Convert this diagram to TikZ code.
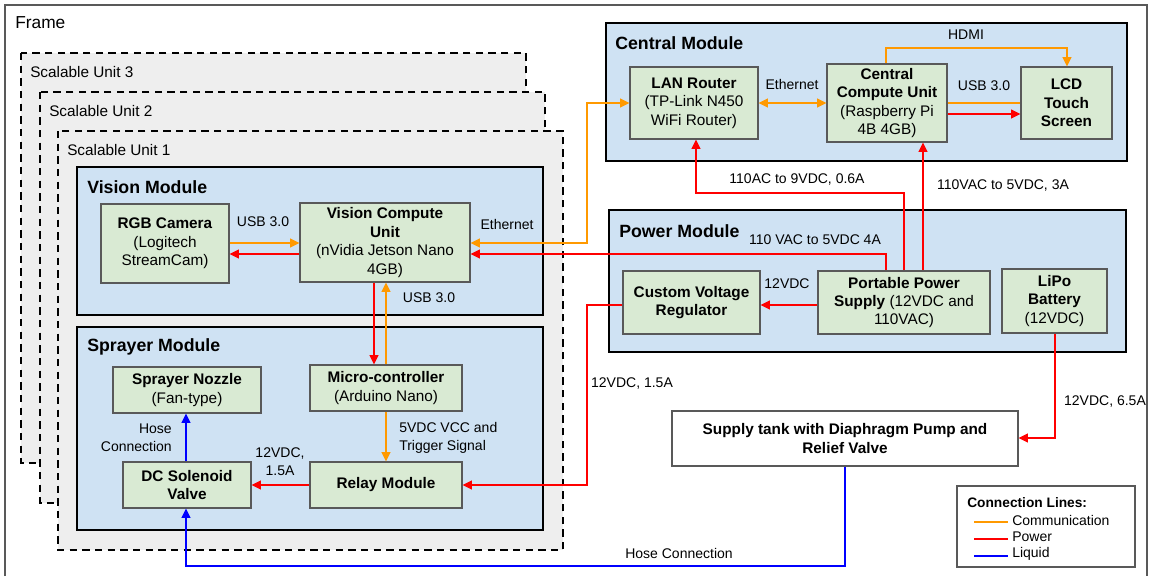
\documentclass[tikz,border=0pt]{standalone}
\usepackage{fontspec}
\setmainfont{Liberation Sans}
\usetikzlibrary{arrows.meta}

\definecolor{modblue}{HTML}{CFE2F3}
\definecolor{compgreen}{HTML}{D9EAD3}
\definecolor{unitgray}{HTML}{EEEEEE}
\definecolor{commorange}{HTML}{FF9900}
\definecolor{powred}{HTML}{FF0000}
\definecolor{liqblue}{HTML}{0000FF}
\definecolor{edgegray}{HTML}{595959}

% node placed by its corners (x1,y1) and (x2,y2), in pixel-like units
\newcommand\boxnode[7]{%
  \node[#2, minimum width={(#5-#3)*0.75pt}, minimum height={(#6-#4)*0.75pt}]
    (#1) at ({(#3+#5)/2},{(#4+#6)/2}) {#7};}

\tikzset{
  txt/.style={font=\fontsize{10.5}{13.5}\selectfont, align=center, inner sep=0pt},
  bigtxt/.style={txt, font=\fontsize{11.5}{13.8}\selectfont},
  title/.style={font=\fontsize{13.3}{16}\selectfont\bfseries, anchor=west, inner sep=0pt},
  unitbox/.style={draw=black, fill=unitgray, line width=1.1pt, dash pattern=on 5.5pt off 4pt},
  modbox/.style={draw=black, fill=modblue, line width=1.1pt, inner sep=0pt},
  compbox/.style={draw=edgegray, fill=compgreen, line width=0.8pt, bigtxt},
  plainbox/.style={draw=edgegray, fill=white, line width=0.8pt, bigtxt},
  tip/.tip={Triangle[length=7pt,width=6.5pt]},
  wire/.style={line width=1.4pt},
  comm/.style={wire, draw=commorange, -tip},
  pow/.style={wire, draw=powred, -tip},
  liq/.style={wire, draw=liqblue, -tip},
}

\begin{document}
\begin{tikzpicture}[x=0.75pt, y=-0.75pt]
\useasboundingbox (0,0) rectangle (1151,576);
\fill[white] (0,0) rectangle (1151,576);

% outer frame
\draw[edgegray, line width=0.9pt] (5,576) -- (5,5) -- (1147,5) -- (1147,576);
\node[txt, anchor=west, font=\fontsize{13}{15}\selectfont] (framelbl) at (15,23) {Frame};

% stacked scalable units
\draw[unitbox] (21,53) rectangle (526,463);
\node[bigtxt, anchor=west] (su3) at (30,72) {Scalable Unit 3};
\draw[unitbox] (40,92) rectangle (545,503);
\node[bigtxt, anchor=west] (su2) at (49,111) {Scalable Unit 2};
\draw[unitbox] (58,131) rectangle (563,550);
\node[bigtxt, anchor=west] (su1) at (67,150) {Scalable Unit 1};

% modules
\boxnode{vision}{modbox}{77}{167}{543}{315}{}
\node[title] (visiont) at (87,187) {Vision Module};
\boxnode{sprayer}{modbox}{77}{327}{543}{530}{}
\node[title] (sprayert) at (87,347) {Sprayer Module};
\boxnode{central}{modbox}{606}{23}{1127}{161}{}
\node[title] (centralt) at (615,43) {Central Module};
\boxnode{power}{modbox}{609}{210}{1126}{352}{}
\node[title] (powert) at (619,231) {Power Module};

% components
\boxnode{cam}{compbox}{101}{204}{229}{283}{\textbf{RGB Camera}\\(Logitech\\StreamCam)}
\boxnode{vcu}{compbox}{300}{203}{470}{282}{\textbf{Vision Compute}\\\textbf{Unit}\\(nVidia Jetson Nano\\4GB)}
\boxnode{nozzle}{compbox}{113}{367}{261}{413}{\textbf{Sprayer Nozzle}\\(Fan-type)}
\boxnode{mcu}{compbox}{310}{365}{462}{411}{\textbf{Micro-controller}\\(Arduino Nano)}
\boxnode{valve}{compbox}{123}{462}{251}{508}{\textbf{DC Solenoid}\\\textbf{Valve}}
\boxnode{relay}{compbox}{310}{462}{462}{508}{\textbf{Relay Module}}
\boxnode{lan}{compbox}{630}{67}{758}{139}{\textbf{LAN Router}\\(TP-Link N450\\WiFi Router)}
\boxnode{ccu}{compbox}{827}{64}{947}{142}{\textbf{Central}\\\textbf{Compute Unit}\\(Raspberry Pi\\4B 4GB)}
\boxnode{lcd}{compbox}{1021}{67}{1112}{139}{\textbf{LCD}\\\textbf{Touch}\\\textbf{Screen}}
\boxnode{cvr}{compbox}{623}{271}{760}{334}{\textbf{Custom Voltage}\\\textbf{Regulator}}
\boxnode{pps}{compbox}{818}{271}{990}{334}{\textbf{Portable Power}\\\textbf{Supply} (12VDC and\\110VAC)}
\boxnode{lipo}{compbox}{1002}{269}{1107}{333}{\textbf{LiPo}\\\textbf{Battery}\\(12VDC)}
\boxnode{tank}{plainbox}{672}{411}{1018}{466}{\textbf{Supply tank with Diaphragm Pump and}\\\textbf{Relief Valve}}

% routing points
\coordinate (ethA) at (587,103);
\coordinate (ethB) at (587,243);
\coordinate (hdmiA) at (886,48);
\coordinate (hdmiB) at (1067,48);
\coordinate (visPwA) at (886,254);
\coordinate (lanPwA) at (904,193);
\coordinate (lanPwB) at (696,193);
\coordinate (regA) at (587,305);
\coordinate (regB) at (587,485);
\coordinate (lipoA) at (1055,438);
\coordinate (hoseA) at (845,566);
\coordinate (hoseB) at (186,566);

% vision module links
\draw[comm] (cam.east |- 0,243) -- (vcu.west |- 0,243);
\draw[pow] (vcu.west |- 0,254) -- (cam.east |- 0,254);
\node[txt] (usbcam) at (263,222) {USB 3.0};
\draw[comm, tip-tip] (lan.west |- ethA) -- (ethA) -- (ethB) -- (vcu.east |- ethB);
\node[txt] (ethvis) at (507,224) {Ethernet};
\draw[pow] (pps.north -| visPwA) -- (visPwA) -- (vcu.east |- visPwA);
\node[txt] (visPwL) at (815,240) {110 VAC to 5VDC 4A};
\draw[pow] (vcu.south -| 374,0) -- (mcu.north -| 374,0);
\draw[comm] (mcu.north -| 386,0) -- (vcu.south -| 386,0);
\node[txt] (usbmcu) at (429,298) {USB 3.0};

% sprayer module links
\draw[comm] (mcu.south -| 386,0) -- (relay.north -| 386,0);
\node[txt, anchor=west, align=left] (trig) at (399,438) {5VDC VCC and\\Trigger Signal};
\draw[pow] (relay.west |- 0,485) -- (valve.east |- 0,485);
\node[txt] (valvePwL) at (280,462) {12VDC,\\1.5A};
\draw[liq] (valve.north -| 186,0) -- (nozzle.south -| 186,0);
\node[txt, anchor=east, align=right] (hoseL) at (172,438) {Hose\\Connection};

% central module links
\draw[comm, tip-tip] (lan.east |- 0,103) -- (ccu.west |- 0,103);
\node[txt] (ethcen) at (792,84) {Ethernet};
\draw[comm] (ccu.north -| hdmiA) -- (hdmiA) -- (hdmiB) -- (lcd.north -| hdmiB);
\node[txt] (hdmiL) at (966,35) {HDMI};
\draw[wire, commorange] (ccu.east |- 0,103) -- (lcd.west |- 0,103);
\draw[pow] (ccu.east |- 0,114) -- (lcd.west |- 0,114);
\node[txt] (usbcen) at (984,86) {USB 3.0};

% power distribution
\draw[pow] (pps.north -| lanPwA) -- (lanPwA) -- (lanPwB) -- (lan.south -| lanPwB);
\node[txt] (lanPwL) at (797,179) {110AC to 9VDC, 0.6A};
\draw[pow] (pps.north -| 923,0) -- (ccu.south -| 923,0);
\node[txt] (ccuPwL) at (1003,185) {110VAC to 5VDC, 3A};
\draw[pow] (pps.west |- 0,305) -- (cvr.east |- 0,305);
\node[txt] (cvrL) at (787,284) {12VDC};
\draw[pow] (cvr.west |- regA) -- (regA) -- (regB) -- (relay.east |- regB);
\node[txt] (relayPwL) at (632,383) {12VDC, 1.5A};
\draw[pow] (lipo.south -| lipoA) -- (lipoA) -- (tank.east |- lipoA);
\node[txt] (tankPwL) at (1105,401) {12VDC, 6.5A};

% liquid line
\draw[liq] (tank.south -| hoseA) -- (hoseA) -- (hoseB) -- (valve.south -| hoseB);
\node[txt] (hoseL2) at (679,553) {Hose Connection};

% legend
\boxnode{legend}{draw=edgegray, fill=white, line width=0.8pt}{957}{486}{1135}{567}{}
\node[txt, anchor=west, font=\fontsize{10.3}{12}\selectfont\bfseries] (legt) at (967,503) {Connection Lines:};
\coordinate (lg1a) at (974,522); \coordinate (lg1b) at (1008,522);
\coordinate (lg2a) at (974,539); \coordinate (lg2b) at (1008,539);
\coordinate (lg3a) at (974,556); \coordinate (lg3b) at (1008,556);
\draw[wire, commorange, line width=1pt] (lg1a) -- (lg1b);
\draw[wire, powred, line width=1pt] (lg2a) -- (lg2b);
\draw[wire, liqblue, line width=1pt] (lg3a) -- (lg3b);
\node[txt, anchor=west] (lg1) at (1012,520) {Communication};
\node[txt, anchor=west] (lg2) at (1012,537) {Power};
\node[txt, anchor=west] (lg3) at (1012,554) {Liquid};
\end{tikzpicture}
\end{document}
